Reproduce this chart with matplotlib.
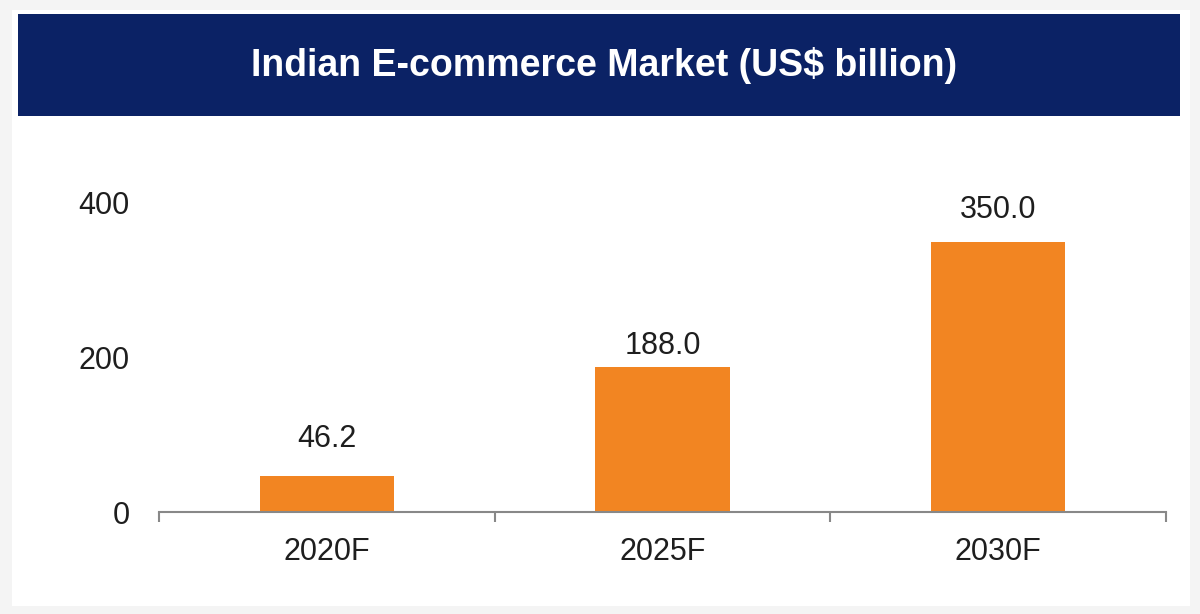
import matplotlib.pyplot as plt
from matplotlib.patches import Rectangle

# === DATA ===
years = ["2020F", "2025F", "2030F"]
market = [46.2, 188.0, 350.0]
yticks = [0, 200, 400]

# label gap above each bar (points), as placed in the original
label_gap = [21, 9, 17]

plt.rcParams['font.family'] = ['Liberation Sans', 'DejaVu Sans']

fig = plt.figure(figsize=(12, 6.14), dpi=100)
fig.patch.set_facecolor("#f4f4f4")

# white panel + navy title banner
fig.patches.append(Rectangle((12 / 1200, 1 - 606 / 614), 1178 / 1200, 596 / 614,
                             transform=fig.transFigure, facecolor="white", edgecolor="none", zorder=0))
fig.patches.append(Rectangle((18 / 1200, 1 - 116 / 614), 1162 / 1200, 102 / 614,
                             transform=fig.transFigure, facecolor="#0b2265", edgecolor="none", zorder=1))
fig.text(0.503, 1 - 66 / 614, "Indian E-commerce Market (US$ billion)", color="white",
         fontsize=27, fontweight="bold", ha="center", va="center", zorder=2)

# axes: x from 159 to 1166 px, y from 512 (0) to 203 (400)
ax = fig.add_axes([159 / 1200, 1 - 512 / 614, 1007 / 1200, 309 / 614])
ax.set_zorder(5)
ax.set_facecolor("none")
x = range(len(years))
ax.bar(x, market, width=0.4, color="#f28522")
ax.set_xlim(-0.5, len(years) - 0.5)
ax.set_ylim(0, 400)

for xi, v, g in zip(x, market, label_gap):
    ax.annotate(f"{v:.1f}", (xi, v), xytext=(0, g), textcoords="offset points",
                ha="center", va="baseline", fontsize=22, color="#1e1e1e")

ax.set_yticks(yticks)
ax.set_yticklabels([str(t) for t in yticks], fontsize=22, color="#1e1e1e")
ax.tick_params(axis="y", length=0, pad=21)

ax.set_xticks(list(x))
ax.set_xticklabels(years, fontsize=22, color="#1e1e1e")
ax.tick_params(axis="x", length=0, pad=18)
# boundary ticks
ax.set_xticks([-0.5, 0.5, 1.5, 2.5], minor=True)
ax.tick_params(axis="x", which="minor", length=7, width=1.5, color="#888888", direction="out")

for s in ["top", "right", "left"]:
    ax.spines[s].set_visible(False)
ax.spines["bottom"].set_color("#888888")
ax.spines["bottom"].set_linewidth(1.5)

fig.savefig("out.png", dpi=100, facecolor=fig.get_facecolor())
